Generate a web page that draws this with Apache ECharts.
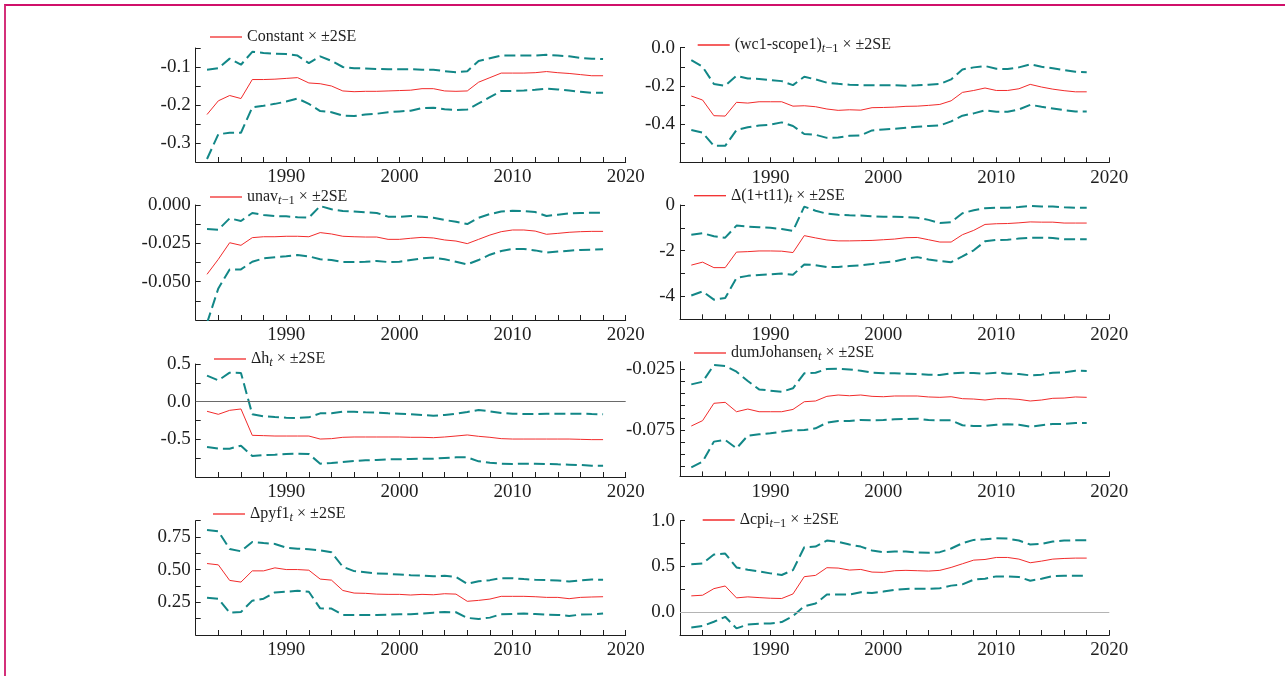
<!DOCTYPE html>
<html><head><meta charset="utf-8">
<script src="https://cdn.jsdelivr.net/npm/echarts@6/dist/echarts.min.js"></script>
<style>
html,body{margin:0;padding:0;background:#fff;overflow:hidden;width:1285px;height:676px;}
#c{width:1285px;height:676px;}
#frame{position:absolute;left:4px;top:4px;width:1281px;height:672px;box-sizing:border-box;border-left:2px solid #d4307a;border-top:2px solid #d0106a;pointer-events:none;}
</style>
</head><body>
<div id="c"></div><div id="frame"></div>
<script>
const years=[1983,1984,1985,1986,1987,1988,1989,1990,1991,1992,1993,1994,1995,1996,1997,1998,1999,2000,2001,2002,2003,2004,2005,2006,2007,2008,2009,2010,2011,2012,2013,2014,2015,2016,2017,2018];

// Panel 1: Constant
const constMid=[-0.225,-0.189,-0.175,-0.183,-0.133,-0.133,-0.132,-0.130,-0.128,-0.142,-0.144,-0.150,-0.163,-0.165,-0.164,-0.164,-0.163,-0.162,-0.161,-0.157,-0.157,-0.163,-0.164,-0.163,-0.140,-0.128,-0.116,-0.116,-0.116,-0.115,-0.112,-0.115,-0.117,-0.120,-0.123,-0.123];
const constUp=[-0.107,-0.103,-0.078,-0.094,-0.060,-0.063,-0.065,-0.066,-0.070,-0.090,-0.072,-0.084,-0.100,-0.103,-0.104,-0.105,-0.106,-0.106,-0.106,-0.107,-0.107,-0.111,-0.114,-0.111,-0.084,-0.077,-0.070,-0.070,-0.070,-0.070,-0.068,-0.070,-0.072,-0.076,-0.078,-0.079];
const constLo=[-0.342,-0.277,-0.273,-0.273,-0.206,-0.202,-0.197,-0.191,-0.183,-0.197,-0.216,-0.219,-0.228,-0.229,-0.225,-0.223,-0.219,-0.217,-0.215,-0.208,-0.207,-0.211,-0.213,-0.212,-0.196,-0.179,-0.163,-0.163,-0.162,-0.160,-0.157,-0.159,-0.162,-0.165,-0.168,-0.168];

// Panel 2: (wc1-scope1)_{t-1}
const wcMid=[-0.253,-0.274,-0.356,-0.358,-0.286,-0.290,-0.283,-0.283,-0.283,-0.306,-0.304,-0.309,-0.321,-0.328,-0.325,-0.327,-0.314,-0.313,-0.311,-0.307,-0.306,-0.302,-0.297,-0.278,-0.234,-0.224,-0.211,-0.224,-0.224,-0.215,-0.192,-0.206,-0.217,-0.225,-0.231,-0.231];
const wcUp=[-0.065,-0.100,-0.190,-0.199,-0.147,-0.161,-0.164,-0.169,-0.175,-0.196,-0.152,-0.166,-0.183,-0.189,-0.194,-0.196,-0.196,-0.197,-0.197,-0.199,-0.197,-0.194,-0.190,-0.166,-0.114,-0.103,-0.096,-0.110,-0.112,-0.103,-0.087,-0.100,-0.108,-0.117,-0.126,-0.129];
const wcLo=[-0.431,-0.445,-0.514,-0.514,-0.431,-0.417,-0.407,-0.403,-0.391,-0.410,-0.452,-0.456,-0.472,-0.470,-0.461,-0.459,-0.433,-0.428,-0.424,-0.419,-0.414,-0.410,-0.407,-0.386,-0.356,-0.344,-0.328,-0.335,-0.335,-0.323,-0.299,-0.309,-0.318,-0.327,-0.334,-0.334];

// Panel 3: unav_{t-1}
const unavMid=[-0.0452,-0.0354,-0.0246,-0.0263,-0.0213,-0.0207,-0.0207,-0.0204,-0.0204,-0.0207,-0.0180,-0.0189,-0.0204,-0.0207,-0.0209,-0.0209,-0.0224,-0.0224,-0.0217,-0.0211,-0.0215,-0.0228,-0.0235,-0.0252,-0.0224,-0.0196,-0.0174,-0.0163,-0.0163,-0.0170,-0.0191,-0.0185,-0.0178,-0.0174,-0.0172,-0.0172];
const unavUp=[-0.0157,-0.0161,-0.0087,-0.0104,-0.0052,-0.0065,-0.0072,-0.0074,-0.0080,-0.0083,-0.0007,-0.0028,-0.0039,-0.0043,-0.0048,-0.0052,-0.0076,-0.0078,-0.0072,-0.0076,-0.0083,-0.0098,-0.0109,-0.0124,-0.0083,-0.0059,-0.0043,-0.0037,-0.0039,-0.0046,-0.0072,-0.0063,-0.0054,-0.0052,-0.0050,-0.0050];
const unavLo=[-0.0770,-0.0544,-0.0420,-0.0420,-0.0370,-0.0348,-0.0341,-0.0335,-0.0326,-0.0335,-0.0354,-0.0359,-0.0372,-0.0372,-0.0370,-0.0365,-0.0372,-0.0370,-0.0359,-0.0348,-0.0343,-0.0354,-0.0370,-0.0387,-0.0359,-0.0324,-0.0300,-0.0287,-0.0287,-0.0296,-0.0311,-0.0304,-0.0298,-0.0293,-0.0291,-0.0289];

// Panel 4: Δ(1+t11)_t
const tMid=[-2.63,-2.50,-2.74,-2.74,-2.06,-2.04,-2.01,-2.01,-2.02,-2.08,-1.34,-1.44,-1.53,-1.57,-1.57,-1.56,-1.55,-1.52,-1.49,-1.43,-1.42,-1.52,-1.62,-1.62,-1.30,-1.11,-0.85,-0.82,-0.81,-0.78,-0.74,-0.75,-0.75,-0.79,-0.79,-0.79];
const tUp=[-1.30,-1.23,-1.37,-1.43,-0.90,-0.95,-0.97,-1.00,-1.05,-1.13,-0.07,-0.25,-0.38,-0.43,-0.45,-0.46,-0.49,-0.51,-0.51,-0.53,-0.56,-0.65,-0.79,-0.75,-0.36,-0.23,-0.14,-0.12,-0.12,-0.09,-0.04,-0.07,-0.07,-0.10,-0.12,-0.12];
const tLo=[-3.96,-3.78,-4.14,-4.07,-3.19,-3.10,-3.06,-3.03,-3.00,-3.05,-2.60,-2.63,-2.71,-2.71,-2.67,-2.64,-2.58,-2.51,-2.47,-2.35,-2.28,-2.38,-2.45,-2.50,-2.25,-1.98,-1.59,-1.53,-1.52,-1.47,-1.43,-1.43,-1.44,-1.50,-1.50,-1.50];

// Panel 5: Δh_t
const hMid=[-0.128,-0.168,-0.115,-0.097,-0.447,-0.451,-0.456,-0.456,-0.456,-0.456,-0.496,-0.491,-0.473,-0.469,-0.469,-0.469,-0.469,-0.469,-0.473,-0.473,-0.478,-0.469,-0.456,-0.442,-0.460,-0.473,-0.491,-0.496,-0.496,-0.496,-0.496,-0.496,-0.496,-0.500,-0.504,-0.504];
const hUp=[0.345,0.283,0.385,0.381,-0.168,-0.195,-0.204,-0.212,-0.217,-0.208,-0.155,-0.155,-0.133,-0.133,-0.142,-0.146,-0.155,-0.159,-0.168,-0.177,-0.186,-0.177,-0.159,-0.137,-0.111,-0.128,-0.150,-0.159,-0.164,-0.164,-0.159,-0.159,-0.159,-0.159,-0.164,-0.168];
const hLo=[-0.602,-0.624,-0.624,-0.584,-0.721,-0.708,-0.704,-0.695,-0.690,-0.695,-0.823,-0.814,-0.801,-0.788,-0.779,-0.774,-0.765,-0.765,-0.761,-0.757,-0.757,-0.748,-0.739,-0.739,-0.792,-0.810,-0.823,-0.827,-0.823,-0.823,-0.827,-0.832,-0.836,-0.841,-0.850,-0.850];

// Panel 6: dumJohansen_t
const djMid=[-0.0717,-0.0673,-0.0531,-0.0523,-0.0600,-0.0578,-0.0600,-0.0600,-0.0600,-0.0581,-0.0518,-0.0512,-0.0474,-0.0463,-0.0469,-0.0463,-0.0474,-0.0477,-0.0471,-0.0471,-0.0471,-0.0479,-0.0482,-0.0477,-0.0493,-0.0496,-0.0504,-0.0493,-0.0493,-0.0499,-0.0512,-0.0504,-0.0490,-0.0488,-0.0479,-0.0482];
const djUp=[-0.0376,-0.0354,-0.0217,-0.0225,-0.0272,-0.0348,-0.0417,-0.0427,-0.0436,-0.0408,-0.0285,-0.0280,-0.0250,-0.0247,-0.0253,-0.0264,-0.0280,-0.0285,-0.0285,-0.0288,-0.0291,-0.0296,-0.0299,-0.0285,-0.0280,-0.0283,-0.0288,-0.0280,-0.0288,-0.0291,-0.0302,-0.0296,-0.0280,-0.0277,-0.0264,-0.0266];
const djLo=[-0.1056,-0.1009,-0.0845,-0.0831,-0.0900,-0.0796,-0.0785,-0.0777,-0.0763,-0.0752,-0.0750,-0.0736,-0.0690,-0.0676,-0.0676,-0.0668,-0.0670,-0.0668,-0.0662,-0.0660,-0.0657,-0.0668,-0.0670,-0.0670,-0.0711,-0.0717,-0.0717,-0.0706,-0.0703,-0.0706,-0.0722,-0.0711,-0.0700,-0.0700,-0.0692,-0.0692];

// Panel 7: Δpyf1_t
const pyMid=[0.547,0.537,0.418,0.405,0.491,0.491,0.514,0.501,0.501,0.496,0.428,0.420,0.341,0.321,0.319,0.313,0.311,0.311,0.306,0.311,0.308,0.316,0.313,0.258,0.265,0.275,0.296,0.296,0.296,0.293,0.288,0.288,0.278,0.288,0.291,0.293];
const pyUp=[0.803,0.793,0.659,0.641,0.712,0.704,0.697,0.669,0.661,0.656,0.648,0.633,0.522,0.489,0.481,0.471,0.468,0.463,0.458,0.456,0.450,0.453,0.445,0.392,0.412,0.420,0.435,0.435,0.428,0.423,0.420,0.418,0.410,0.418,0.425,0.423];
const pyLo=[0.286,0.278,0.171,0.176,0.263,0.278,0.326,0.331,0.339,0.331,0.204,0.202,0.154,0.154,0.154,0.154,0.156,0.159,0.159,0.164,0.171,0.176,0.174,0.131,0.123,0.133,0.159,0.161,0.164,0.161,0.156,0.154,0.146,0.156,0.159,0.164];

// Panel 8: Δcpi_{t-1}
const cpiMid=[0.178,0.185,0.257,0.286,0.156,0.167,0.159,0.152,0.149,0.199,0.388,0.402,0.486,0.482,0.460,0.467,0.438,0.435,0.453,0.457,0.453,0.449,0.457,0.489,0.529,0.569,0.576,0.598,0.598,0.580,0.540,0.558,0.580,0.587,0.591,0.591];
const cpiUp=[0.525,0.533,0.630,0.641,0.489,0.464,0.446,0.424,0.406,0.460,0.710,0.717,0.783,0.768,0.739,0.717,0.674,0.656,0.663,0.663,0.652,0.649,0.656,0.696,0.754,0.790,0.797,0.808,0.804,0.783,0.739,0.746,0.772,0.783,0.786,0.786];
const cpiLo=[-0.167,-0.152,-0.105,-0.051,-0.178,-0.134,-0.127,-0.123,-0.109,-0.043,0.065,0.094,0.192,0.192,0.192,0.217,0.210,0.225,0.243,0.254,0.257,0.254,0.261,0.290,0.304,0.355,0.366,0.391,0.391,0.384,0.344,0.366,0.395,0.399,0.399,0.399];

// axis ticks / labels
const xTicks=[1984,1986,1988,1990,1992,1994,1996,1998,2000,2002,2004,2006,2008,2010,2012,2014,2016,2018,2020];
const xLabels=[1990,2000,2010,2020];
const y1Ticks=[-0.3,-0.25,-0.2,-0.15,-0.1,-0.05], y1Labels=[-0.3,-0.2,-0.1];
const y2Ticks=[-0.5,-0.4,-0.3,-0.2,-0.1,0], y2Labels=[-0.4,-0.2,0];
const y3Ticks=[-0.0625,-0.05,-0.0375,-0.025,-0.0125,0], y3Labels=[-0.05,-0.025,0];
const y4Ticks=[-4,-3,-2,-1,0], y4Labels=[-4,-2,0];
const y5Ticks=[-0.75,-0.5,-0.25,0,0.25,0.5], y5Labels=[-0.5,0,0.5];
const y6Ticks=[-0.105,-0.095,-0.085,-0.075,-0.065,-0.055,-0.045,-0.035,-0.025], y6Labels=[-0.075,-0.025];
const y7Ticks=[0.125,0.25,0.375,0.5,0.625,0.75,0.875], y7Labels=[0.25,0.5,0.75];
const y8Ticks=[-0.25,0,0.25,0.5,0.75,1.0], y8Labels=[0,0.5,1.0];

const names=['Constant','(wc1-scope1)','unav','Δ(1+t11)','Δh','dumJohansen','Δpyf1','Δcpi'];
const subs=['','t−1','t−1','t','t','t','t','t−1'];

const panels=[
 {mid:constMid,up:constUp,lo:constLo,min:-0.35,max:-0.05,ticks:y1Ticks,labels:y1Labels,dec:1,grid:[195.7,48,430,114],leg:[210,37]},
 {mid:wcMid,up:wcUp,lo:wcLo,min:-0.6,max:0,ticks:y2Ticks,labels:y2Labels,dec:1,grid:[680,47.7,429.3,114.6],leg:[697.7,45]},
 {mid:unavMid,up:unavUp,lo:unavLo,min:-0.075,max:0,ticks:y3Ticks,labels:y3Labels,dec:3,grid:[195.7,205,430,115],leg:[210,197]},
 {mid:tMid,up:tUp,lo:tLo,min:-5,max:0,ticks:y4Ticks,labels:y4Labels,dec:0,grid:[680,205,429.3,114.3],leg:[694,195.7]},
 {mid:hMid,up:hUp,lo:hLo,min:-1,max:0.5,ticks:y5Ticks,labels:y5Labels,dec:1,grid:[195.7,364,430,113],leg:[214,359],zero:'#6a6a6a'},
 {mid:djMid,up:djUp,lo:djLo,min:-0.113,max:-0.019,ticks:y6Ticks,labels:y6Labels,dec:3,grid:[680,361.7,429.3,114.7],leg:[694,353]},
 {mid:pyMid,up:pyUp,lo:pyLo,min:0,max:0.875,ticks:y7Ticks,labels:y7Labels,dec:2,grid:[195.7,520.7,430,114.3],leg:[213,514]},
 {mid:cpiMid,up:cpiUp,lo:cpiLo,min:-0.25,max:1.0,ticks:y8Ticks,labels:y8Labels,dec:1,grid:[680,520.7,429.3,114.3],leg:[702.7,520],zero:'#b4b4b4'}
];

const FONT='Liberation Serif';
const AX='#1e1e1e';
const RED='#f22b2b';
const TEAL='#128787';
const pairs=a=>years.map((y,i)=>[y,a[i]]);

const grid=[],xAxis=[],yAxis=[],series=[],legend=[];
panels.forEach((p,k)=>{
  grid.push({left:p.grid[0],top:p.grid[1],width:p.grid[2],height:p.grid[3],containLabel:false});
  xAxis.push({type:'value',gridIndex:k,min:1982,max:2020,
    axisLine:{show:true,onZero:false,lineStyle:{color:AX,width:1}},
    axisTick:{show:true,inside:true,length:5,customValues:xTicks,lineStyle:{color:AX}},
    axisLabel:{show:true,customValues:xLabels,fontFamily:FONT,fontSize:19,color:AX,margin:6,formatter:v=>String(v)},
    splitLine:{show:false}});
  yAxis.push({type:'value',gridIndex:k,min:p.min,max:p.max,
    axisLine:{show:true,onZero:false,lineStyle:{color:AX,width:1}},
    axisTick:{show:true,inside:true,length:5,customValues:p.ticks,lineStyle:{color:AX}},
    axisLabel:{show:true,customValues:p.labels,fontFamily:FONT,fontSize:19,color:AX,margin:5,
      formatter:v=>{let s=Number(v).toFixed(p.dec); if(/^-0(\.0+)?$/.test(s)) s=s.slice(1); return s;}},
    splitLine:{show:false}});
  const nm=names[k]+subs[k];
  const mid={type:'line',name:nm,xAxisIndex:k,yAxisIndex:k,data:pairs(p.mid),symbol:'none',showSymbol:false,
    lineStyle:{color:RED,width:1},itemStyle:{color:RED},z:4,clip:true,silent:true};
  if(p.zero){
    mid.markLine={silent:true,symbol:['none','none'],label:{show:false},animation:false,
      lineStyle:{color:p.zero,width:1,type:'solid'},data:[{yAxis:0}]};
  }
  series.push(mid);
  [p.up,p.lo].forEach(arr=>series.push({type:'line',name:nm+'_band',xAxisIndex:k,yAxisIndex:k,data:pairs(arr),
    symbol:'none',showSymbol:false,lineStyle:{color:TEAL,width:2,type:[11,5]},z:3,clip:true,silent:true}));
  legend.push({data:[nm],left:p.leg[0],top:p.leg[1]-10,padding:0,icon:'rect',itemWidth:32,itemHeight:1.3,
    itemStyle:{color:RED},selectedMode:false,
    textStyle:{fontFamily:FONT,fontSize:16,color:AX,lineHeight:20,
      rich:{n:{fontFamily:FONT,fontSize:16,color:AX,lineHeight:20},
            i:{fontFamily:FONT,fontSize:12.5,fontStyle:'italic',color:AX,lineHeight:4,verticalAlign:'bottom'},
            s:{fontFamily:FONT,fontSize:12.5,color:AX,lineHeight:4,verticalAlign:'bottom'}}},
    formatter:()=>{
      const sub=subs[k];
      let t='{n|'+names[k]+'}';
      if(sub){ t+='{i|t}'; if(sub.length>1) t+='{s|'+sub.slice(1)+'}'; }
      return t+'{n| × ±2SE}';
    }});
});

const chart=echarts.init(document.getElementById('c'),null,{renderer:'canvas'});
chart.setOption({animation:false,backgroundColor:'#ffffff',grid,xAxis,yAxis,series,legend});
</script>
</body></html>
